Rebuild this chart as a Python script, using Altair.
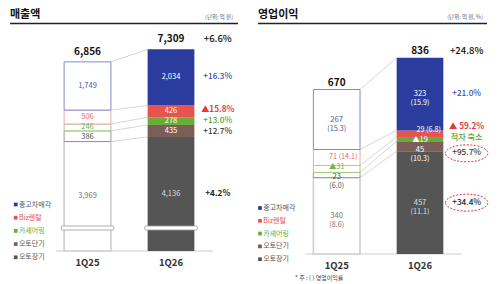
import altair as alt
import pandas as pd

FONT = "Noto Sans CJK KR"

# ---------------- data ----------------
segments = ["오토장기", "오토단기", "카셰어링", "Biz렌탈", "중고차매각"]  # bottom -> top
periods = ["1Q25", "1Q26"]
legend_order = ["중고차매각", "Biz렌탈", "카셰어링", "오토단기", "오토장기"]

sales_1q25 = [3969, 386, 246, 506, 1749]
sales_1q26 = [4136, 435, 278, 426, 2034]
sales_growth = ["+4.2%", "+12.7%", "+13.0%", "▲15.8%", "+16.3%"]
sales_totals = [6856, 7309]
sales_total_growth = "+6.6%"

op_1q25 = [340, 23, -31, 71, 267]
op_1q26 = [457, 45, -19, 29, 323]
margin_1q25 = [8.6, 6.0, None, 14.1, 15.3]
margin_1q26 = [11.1, 10.3, None, 6.8, 15.9]
op_growth = ["+34.4%", "+95.7%", "적자 축소", "▲ 59.2%", "+21.0%"]
op_highlight = [True, True, False, False, False]
op_totals = [670, 836]
op_total_growth = "+24.8%"

# ---------------- styles ----------------
FILL = {"오토장기": "#555555", "오토단기": "#7b5e57", "카셰어링": "#6aab3c",
        "Biz렌탈": "#e8524f", "중고차매각": "#2a3d9e"}
OUTLINE_25 = {"오토장기": "#cfcfcf", "오토단기": "#a3928d", "카셰어링": "#9fcf80",
              "Biz렌탈": "#f3a5a5", "중고차매각": "#7f8bc8"}
TEXT_25 = {"오토장기": "#777777", "오토단기": "#555555", "카셰어링": "#74b548",
           "Biz렌탈": "#e86b6b", "중고차매각": "#4a5cb0"}
TEXT_26 = {"오토장기": "#dddddd", "오토단기": "#ffffff", "카셰어링": "#ffffff",
           "Biz렌탈": "#ffffff", "중고차매각": "#ffffff"}
GROWTH_COLOR = {"오토장기": "#222222", "오토단기": "#3a3a3a", "카셰어링": "#5ba333",
                "Biz렌탈": "#e03b3b", "중고차매각": "#3a4ea8"}
LEGEND_TEXT = {"중고차매각": "#555555", "Biz렌탈": "#e4514f", "카셰어링": "#6aab3c",
               "오토단기": "#555555", "오토장기": "#555555"}

W, H = 250, 284
HW = 0.28        # half bar width in slot units
GROWTH_X = 1.56  # growth column, slot units


def spread(centers, halves):
    """De-overlap label positions (ascending) given half-extents."""
    n = len(centers)
    groups = [[i] for i in range(n)]
    while True:
        pos = {}
        for g in groups:
            offs = [0.0]
            for a, b in zip(g[:-1], g[1:]):
                offs.append(offs[-1] + halves[a] + halves[b])
            shift = sum(centers[i] for i in g) / len(g) - sum(offs) / len(offs)
            for i, o in zip(g, offs):
                pos[i] = shift + o
        merged = False
        for k in range(len(groups) - 1):
            a, b = groups[k][-1], groups[k + 1][0]
            if pos[b] - pos[a] < halves[a] + halves[b] - 1e-9:
                groups[k] = groups[k] + groups[k + 1]
                del groups[k + 1]
                merged = True
                break
        if not merged:
            return [pos[i] for i in range(n)]


def make_panel(p):
    S, B, C0, D = p["upp"], p["base_px"], p["c0"], p["step"]

    def py(px):
        return (B - px) * S

    def pxx(px):
        return (px - C0) / D

    xs = alt.Scale(domain=[pxx(0), pxx(W)], nice=False, zero=False)
    ys = alt.Scale(domain=[py(H), py(0)], nice=False, zero=False)

    def X(f):
        return alt.X(f, type="quantitative", scale=xs, axis=None)

    def Y(f):
        return alt.Y(f, type="quantitative", scale=ys, axis=None)

    rows = []
    tops = {}
    for pi, per in enumerate(periods):
        vals = p["v"][pi]
        cum = 0
        mids = []
        for si, seg in enumerate(segments):
            v = vals[si]
            y0, y1 = cum, cum + abs(v)
            cum = y1
            is25 = pi == 0
            mids.append((y0 + y1) / 2)
            rows.append(dict(
                period=per, idx=pi, seg=seg, v=v,
                x0=pi - HW, x1=pi + HW, y0=y0, y1=y1, mid=(y0 + y1) / 2,
                fill="#ffffff" if is25 else FILL[seg],
                stroke=OUTLINE_25[seg] if is25 else FILL[seg],
                sw=(1.6 if seg == "오토장기" else 1.0) if is25 else 0.0,
                tcol=TEXT_25[seg] if is25 else TEXT_26[seg],
            ))
            tops[(pi, si)] = y1
        ly = spread(mids, [5.0 * S] * len(mids))
        for si in range(len(segments)):
            rows[pi * len(segments) + si]["ly"] = ly[si]
    seg_df = pd.DataFrame(rows)

    con_df = pd.DataFrame([dict(cx0=0 + HW, cx1=1 - HW, cy0=tops[(0, si)], cy1=tops[(1, si)])
                           for si in range(len(segments))])
    base_df = pd.DataFrame([dict(bx0=-0.38, bx1=1.5, by=0)])

    layers = []
    layers.append(alt.Chart(base_df).mark_rule(color="#dedede", strokeWidth=1.5).encode(
        x=X("bx0"), x2=alt.X2("bx1"), y=Y("by")))
    layers.append(alt.Chart(con_df).mark_rule(color="#c4c4c4", strokeWidth=0.7).encode(
        x=X("cx0"), x2=alt.X2("cx1"), y=Y("cy0"), y2=alt.Y2("cy1")))
    layers.append(alt.Chart(seg_df).mark_rect().encode(
        x=X("x0"), x2=alt.X2("x1"), y=Y("y0"), y2=alt.Y2("y1"),
        fill=alt.Fill("fill:N", scale=None), stroke=alt.Stroke("stroke:N", scale=None),
        strokeWidth=alt.StrokeWidth("sw:Q", scale=None)))

    if p["break_px"] is not None:
        brk = pd.DataFrame([dict(bx0=i - HW - 0.035, bx1=i + HW + 0.035,
                                 by0=py(p["break_px"] + 2), by1=py(p["break_px"] - 2))
                            for i in range(2)])
        layers.append(alt.Chart(brk).mark_rect(fill="white", stroke="#9a9a9a", strokeWidth=0.8,
                                               cornerRadius=1).encode(
            x=X("bx0"), x2=alt.X2("bx1"), y=Y("by0"), y2=alt.Y2("by1")))

    lab = seg_df.copy()
    if p["kind"] == "sales":
        lab["t"] = lab["v"].map(lambda v: f"{v:,}")
        layers.append(alt.Chart(lab).mark_text(font=FONT, fontSize=7.5, baseline="middle").encode(
            x=X("idx"), y=Y("ly"), text="t:N", color=alt.Color("tcol:N", scale=None)))
    else:
        lab["m"] = [p["m"][r["idx"]][segments.index(r["seg"])] for _, r in lab.iterrows()]
        two = lab[lab["seg"].isin(["중고차매각", "오토단기", "오토장기"])].copy()
        two["t1"] = two["v"].map(lambda v: f"{v:,}")
        two["t2"] = two["m"].map(lambda m: f"({m:.1f})")
        layers.append(alt.Chart(two).mark_text(font=FONT, fontSize=7.6, baseline="middle").encode(
            x=X("idx"), y=Y("ly"), text="t1:N", color=alt.Color("tcol:N", scale=None)))
        layers.append(alt.Chart(two).mark_text(font=FONT, fontSize=7.2, baseline="middle", dy=9).encode(
            x=X("idx"), y=Y("ly"), text="t2:N", color=alt.Color("tcol:N", scale=None)))
        inl = lab[lab["seg"] == "Biz렌탈"].copy()
        inl["t"] = [f"{v} ({m:.1f})" for v, m in zip(inl["v"], inl["m"])]
        inl["xr"] = inl["idx"] + HW - 0.03
        layers.append(alt.Chart(inl).mark_text(font=FONT, fontSize=7.2, baseline="middle", align="right").encode(
            x=X("xr"), y=Y("ly"), text="t:N", color=alt.Color("tcol:N", scale=None)))
        tri = lab[lab["seg"] == "카셰어링"].copy()
        tri["t"] = tri["v"].map(lambda v: f"▲{abs(v)}")
        layers.append(alt.Chart(tri).mark_text(font=FONT, fontSize=7.4, baseline="middle").encode(
            x=X("idx"), y=Y("ly"), text="t:N", color=alt.Color("tcol:N", scale=None)))

    tot_df = pd.DataFrame([dict(idx=i, top=tops[(i, len(segments) - 1)], t=f"{p['tot'][i]:,}")
                           for i in range(2)])
    layers.append(alt.Chart(tot_df).mark_text(font=FONT, fontSize=10, fontWeight="bold",
                                              baseline="bottom", dy=p["tot_dy"], color="#111111").encode(
        x=X("idx"), y=Y("top"), text="t:N"))
    tg_df = pd.DataFrame([dict(gx=GROWTH_X, gy=tops[(1, len(segments) - 1)], t=p["tot_g"])])
    layers.append(alt.Chart(tg_df).mark_text(font=FONT, fontSize=9.5, fontWeight=500,
                                             baseline="bottom", dy=p["tot_dy"], color="#111111").encode(
        x=X("gx"), y=Y("gy"), text="t:N"))

    s26 = seg_df[seg_df["idx"] == 1].reset_index(drop=True)
    halves = [(9.5 if h else 5.5) * S for h in p["hl"]]
    gy = spread(list(s26["mid"]), halves)
    g_df = pd.DataFrame(dict(seg=segments, gx=GROWTH_X, gy=gy, t=p["g"],
                             col=[GROWTH_COLOR[s] for s in segments],
                             bold=[s in p["bold"] for s in segments],
                             hl=p["hl"]))
    layers.append(alt.Chart(g_df[~g_df["bold"]]).mark_text(font=FONT, fontSize=8.2, fontWeight=500,
                                                            baseline="middle").encode(
        x=X("gx"), y=Y("gy"), text="t:N", color=alt.Color("col:N", scale=None)))
    layers.append(alt.Chart(g_df[g_df["bold"]]).mark_text(font=FONT, fontSize=8.2, fontWeight="bold",
                                                           baseline="middle").encode(
        x=X("gx"), y=Y("gy"), text="t:N", color=alt.Color("col:N", scale=None)))
    if any(p["hl"]):
        layers.append(alt.Chart(g_df[g_df["hl"]]).mark_point(
            shape="M-1,0A1,0.4,0,1,1,1,0A1,0.4,0,1,1,-1,0Z", size=1800, filled=False,
            stroke="#e0393b", strokeWidth=1, strokeDash=[2, 1.5], opacity=1).encode(
            x=X("gx"), y=Y("gy")))

    cat_df = pd.DataFrame(dict(idx=[0, 1], cy=py(p["cat_px"]), t=periods))
    layers.append(alt.Chart(cat_df).mark_text(font=FONT, fontSize=9.5, fontWeight="bold",
                                              baseline="middle", color="#333333").encode(
        x=X("idx"), y=Y("cy"), text="t:N"))

    leg_df = pd.DataFrame(dict(
        t=legend_order,
        ly=[py(p["leg_top"] + i * p["leg_step"]) for i in range(len(legend_order))],
        sx=pxx(p["leg_x"]), tx=pxx(p["leg_x"] + 3.2),
        c=[FILL[s] for s in legend_order], tc=[LEGEND_TEXT[s] for s in legend_order]))
    layers.append(alt.Chart(leg_df).mark_square(size=14, opacity=1).encode(
        x=X("sx"), y=Y("ly"), color=alt.Color("c:N", scale=None)))
    layers.append(alt.Chart(leg_df).mark_text(font=FONT, fontSize=7, align="left", baseline="middle").encode(
        x=X("tx"), y=Y("ly"), text="t:N", color=alt.Color("tc:N", scale=None)))

    one = pd.DataFrame({"k": [0]})
    layers.append(alt.Chart(one).mark_text(font=FONT, fontSize=11, fontWeight="bold", align="left",
                                           baseline="middle", color="#111111", text=p["title"]).encode(
        x=alt.value(p["title_x"]), y=alt.value(14.5)))
    layers.append(alt.Chart(one).mark_rule(color="#222222", strokeWidth=1.3).encode(
        x=alt.value(p["title_x"]), x2=alt.value(p["rule_x2"]), y=alt.value(23.5)))
    layers.append(alt.Chart(one).mark_text(font=FONT, fontSize=5.5, align="right", baseline="middle",
                                           color="#666666", text=p["unit"]).encode(
        x=alt.value(p["unit_x"]), y=alt.value(17)))
    if p.get("note"):
        layers.append(alt.Chart(one).mark_text(font=FONT, fontSize=6, align="left", baseline="middle",
                                               color="#444444", text=p["note"]).encode(
            x=alt.value(45), y=alt.value(278)))

    return alt.layer(*layers).properties(width=W, height=H)


left = make_panel(dict(
    kind="sales", v=[sales_1q25, sales_1q26], tot=sales_totals, tot_g=sales_total_growth,
    g=sales_growth, bold={"Biz렌탈", "오토장기"}, hl=[False] * 5,
    upp=36.25, base_px=251, c0=87.5, step=83.5, break_px=228, cat_px=263, tot_dy=-5,
    leg_x=15.7, leg_top=204.5, leg_step=13.2,
    title="매출액", title_x=10, rule_x2=238, unit="(단위: 억 원)", unit_x=233))

right = make_panel(dict(
    kind="op", v=[op_1q25, op_1q26], m=[margin_1q25, margin_1q26], tot=op_totals, tot_g=op_total_growth,
    g=op_growth, bold={"Biz렌탈"}, hl=op_highlight,
    upp=4.45, base_px=254, c0=86.7, step=83.3, break_px=None, cat_px=266, tot_dy=-2,
    leg_x=10, leg_top=208, leg_step=12.8,
    title="영업이익", title_x=8, rule_x2=237, unit="(단위: 억 원, %)", unit_x=233,
    note="* 주 : ( ) 영업이익률"))

chart = alt.hconcat(left, right, spacing=0).properties(padding=0, background="white") \
    .configure_view(stroke=None)

chart.save("out.html", embed_options={"renderer": "svg", "actions": False})
